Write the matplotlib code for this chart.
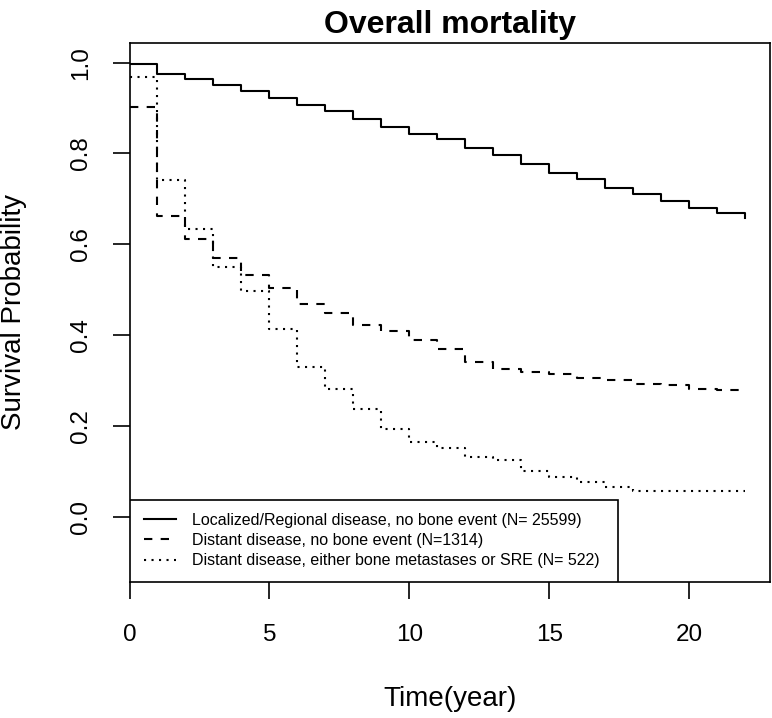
# Kaplan-Meier style survival curves, overall mortality
import matplotlib
matplotlib.use("Agg")
import matplotlib.pyplot as plt
from matplotlib.patches import Rectangle
import numpy as np

plt.rcParams["font.family"] = ["Liberation Sans", "DejaVu Sans"]

# yearly follow-up times, the survival value holds from each time to the next
years = np.arange(0, 23)

localized = [0.997, 0.976, 0.963, 0.950, 0.937, 0.923, 0.907, 0.893, 0.876,
	0.859, 0.843, 0.831, 0.813, 0.797, 0.777, 0.757, 0.743, 0.725, 0.710,
	0.695, 0.679, 0.669, 0.658]
distant = [0.903, 0.663, 0.611, 0.569, 0.532, 0.503, 0.469, 0.448, 0.423,
	0.408, 0.388, 0.369, 0.340, 0.325, 0.318, 0.315, 0.305, 0.301, 0.293,
	0.290, 0.281, 0.280, 0.279]
bone = [0.969, 0.741, 0.634, 0.551, 0.496, 0.413, 0.330, 0.282, 0.238,
	0.193, 0.164, 0.151, 0.132, 0.124, 0.101, 0.088, 0.077, 0.066, 0.057,
	0.057, 0.057, 0.057, 0.057]

labels = ["Localized/Regional disease, no bone event (N= 25599)",
	"Distant disease, no bone event (N=1314)",
	"Distant disease, either bone metastases or SRE (N= 522)"]

xticks = [0, 5, 10, 15, 20]
yticks = [0.0, 0.2, 0.4, 0.6, 0.8, 1.0]

fig = plt.figure(figsize=(7.72, 7.18), dpi=100)
ax = fig.add_axes([129.5 / 772, 1 - 582 / 718, 640 / 772, 539.3 / 718])

lw = 1.5
ax.step(years, localized, where="post", color="black", lw=lw,
	label=labels[0])
ax.step(years, distant, where="post", color="black", lw=lw,
	dashes=(4, 4), label=labels[1])
ax.step(years, bone, where="post", color="black", lw=lw,
	dashes=(1, 2.6), dash_capstyle="butt", label=labels[2])

ax.set_xlim(0, 22.86)
ax.set_ylim(-0.144, 1.044)
ax.set_xticks(xticks)
ax.set_yticks(yticks)
ax.set_yticklabels(["%.1f" % v for v in yticks])

for s in ax.spines.values():
	s.set_linewidth(1.2)
ax.tick_params(direction="out", length=12.2, width=1.2, labelsize=17.5)
ax.tick_params(axis="x", pad=18)
ax.tick_params(axis="y", pad=15, labelrotation=90)
for t in ax.get_yticklabels():
	t.set_va("center")

ax.set_title("Overall mortality", fontsize=23, fontweight="bold", pad=7)
fig.text(450 / 772, 1 - 699 / 718, "Time(year)", fontsize=20,
	ha="center", va="center")
fig.text(14 / 772, 1 - 312.5 / 718, "Survival Probability", fontsize=20,
	ha="center", va="center", rotation=90)

# legend box is drawn on its own, R pads it wider on the right
ax.add_patch(Rectangle((0, 0), 0.764, 0.152, transform=ax.transAxes,
	fill=True, facecolor="white", edgecolor="black", lw=1.2, zorder=4))
leg = ax.legend(loc="upper left", bbox_to_anchor=(0.0226, 0.128),
	frameon=False, fontsize=11.5, handlelength=2.0, handletextpad=1.0,
	labelspacing=0.32, borderpad=0, borderaxespad=0)
leg.set_zorder(5)

fig.savefig("out.png", dpi=100)
